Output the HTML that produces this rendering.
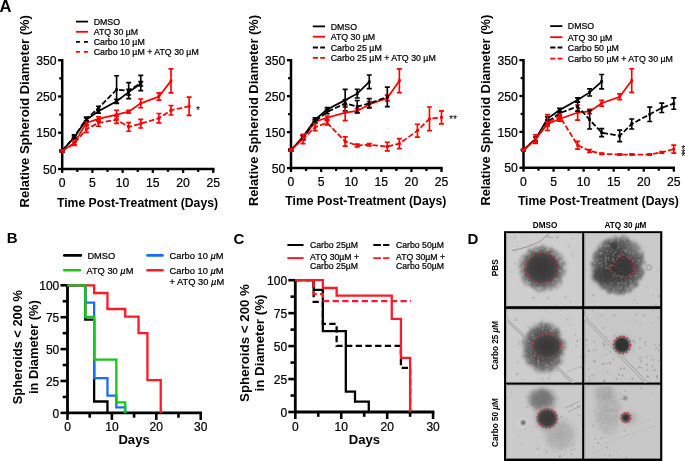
<!DOCTYPE html>
<html><head><meta charset="utf-8"><style>
html,body{margin:0;padding:0;background:#fff;}
svg{display:block;will-change:transform;}
text{font-family:"Liberation Sans", sans-serif;fill:#000;}
text.r,.r text{stroke:#000;stroke-width:0.22px;}
</style></head><body>
<svg width="685" height="461" viewBox="0 0 685 461">
<rect width="685" height="461" fill="#fff"/>
<path d="M62.2 59V169H214.5" fill="none" stroke="#000" stroke-width="2.5" stroke-linejoin="miter"/>
<path d="M58.1 169H62.2" stroke="#000" stroke-width="2.3"/>
<path d="M59.3 150.87H62.2" stroke="#000" stroke-width="2.3"/>
<path d="M58.1 132.73H62.2" stroke="#000" stroke-width="2.3"/>
<path d="M59.3 114.6H62.2" stroke="#000" stroke-width="2.3"/>
<path d="M58.1 96.47H62.2" stroke="#000" stroke-width="2.3"/>
<path d="M59.3 78.33H62.2" stroke="#000" stroke-width="2.3"/>
<path d="M58.1 60.2H62.2" stroke="#000" stroke-width="2.3"/>
<path d="M62.2 169V172.9" stroke="#000" stroke-width="2.3"/>
<path d="M77.31 169V171.9" stroke="#000" stroke-width="2.3"/>
<path d="M92.42 169V172.9" stroke="#000" stroke-width="2.3"/>
<path d="M107.53 169V171.9" stroke="#000" stroke-width="2.3"/>
<path d="M122.64 169V172.9" stroke="#000" stroke-width="2.3"/>
<path d="M137.75 169V171.9" stroke="#000" stroke-width="2.3"/>
<path d="M152.86 169V172.9" stroke="#000" stroke-width="2.3"/>
<path d="M167.97 169V171.9" stroke="#000" stroke-width="2.3"/>
<path d="M183.08 169V172.9" stroke="#000" stroke-width="2.3"/>
<path d="M198.19 169V171.9" stroke="#000" stroke-width="2.3"/>
<path d="M213.3 169V172.9" stroke="#000" stroke-width="2.3"/>
<text x="56.6" y="173.6" text-anchor="end" font-size="12.2" class="r">50</text>
<text x="56.6" y="137.33" text-anchor="end" font-size="12.2" class="r">150</text>
<text x="56.6" y="101.07" text-anchor="end" font-size="12.2" class="r">250</text>
<text x="56.6" y="64.8" text-anchor="end" font-size="12.2" class="r">350</text>
<text x="62.2" y="186.5" text-anchor="middle" font-size="12.2" class="r">0</text>
<text x="92.42" y="186.5" text-anchor="middle" font-size="12.2" class="r">5</text>
<text x="122.64" y="186.5" text-anchor="middle" font-size="12.2" class="r">10</text>
<text x="152.86" y="186.5" text-anchor="middle" font-size="12.2" class="r">15</text>
<text x="183.08" y="186.5" text-anchor="middle" font-size="12.2" class="r">20</text>
<text x="213.3" y="186.5" text-anchor="middle" font-size="12.2" class="r">25</text>
<text x="57" y="206.9" font-size="12.1" font-weight="bold" textLength="161" lengthAdjust="spacingAndGlyphs">Time Post-Treatment (Days)</text>
<text transform="translate(29.3,207.4) rotate(-90)" font-size="12.9" font-weight="bold" textLength="192.3" lengthAdjust="spacingAndGlyphs">Relative Spheroid Diameter (%)</text>
<path d="M62.2 150.87 L74.29 137.45 L86.38 119.68 L98.46 111.34 L116.6 101.18 L128.68 92.11 L140.77 83.77" fill="none" stroke="#000" stroke-width="1.75"/>
<path d="M62.2 149.78V151.95M59.7 149.78H64.7M59.7 151.95H64.7M74.29 136V138.9M71.79 136H76.79M71.79 138.9H76.79M86.38 117.86V121.49M83.88 117.86H88.88M83.88 121.49H88.88M98.46 109.52V113.15M95.96 109.52H100.96M95.96 113.15H100.96M116.6 99.37V102.99M114.1 99.37H119.1M114.1 102.99H119.1M128.68 89.21V95.02M126.18 89.21H131.18M126.18 95.02H131.18M140.77 81.6V85.95M138.27 81.6H143.27M138.27 85.95H143.27" fill="none" stroke="#000" stroke-width="1.65"/>
<path d="M60.8 149.47h2.8v2.8h-2.8zM72.89 136.05h2.8v2.8h-2.8zM84.98 118.28h2.8v2.8h-2.8zM97.06 109.94h2.8v2.8h-2.8zM115.2 99.78h2.8v2.8h-2.8zM127.28 90.71h2.8v2.8h-2.8zM139.37 82.37h2.8v2.8h-2.8z" fill="#000"/>
<path d="M62.2 150.87 L74.29 142.89 L86.38 122.94 L98.46 118.95 L116.6 114.6 L128.68 111.7 L140.77 103.36 L158.9 96.47 L170.99 80.87" fill="none" stroke="#ff0000" stroke-width="1.75"/>
<path d="M62.2 149.78V151.95M59.7 149.78H64.7M59.7 151.95H64.7M74.29 141.07V144.7M71.79 141.07H76.79M71.79 144.7H76.79M86.38 121.13V124.75M83.88 121.13H88.88M83.88 124.75H88.88M98.46 116.78V121.13M95.96 116.78H100.96M95.96 121.13H100.96M116.6 110.25V118.95M114.1 110.25H119.1M114.1 118.95H119.1M128.68 110.25V113.15M126.18 110.25H131.18M126.18 113.15H131.18M140.77 99.01V107.71M138.27 99.01H143.27M138.27 107.71H143.27M158.9 92.84V100.09M156.4 92.84H161.4M156.4 100.09H161.4M170.99 68.9V92.84M168.49 68.9H173.49M168.49 92.84H173.49" fill="none" stroke="#ff0000" stroke-width="1.65"/>
<path d="M60.8 149.47h2.8v2.8h-2.8zM72.89 141.49h2.8v2.8h-2.8zM84.98 121.54h2.8v2.8h-2.8zM97.06 117.55h2.8v2.8h-2.8zM115.2 113.2h2.8v2.8h-2.8zM127.28 110.3h2.8v2.8h-2.8zM139.37 101.96h2.8v2.8h-2.8zM157.5 95.07h2.8v2.8h-2.8zM169.59 79.47h2.8v2.8h-2.8z" fill="#ff0000"/>
<path d="M62.2 150.87 L74.29 136.36 L86.38 118.95 L98.46 108.07 L116.6 89.58 L128.68 90.66 L140.77 83.05" fill="none" stroke="#000" stroke-width="1.75" stroke-dasharray="5.5 2.2"/>
<path d="M62.2 149.78V151.95M59.7 149.78H64.7M59.7 151.95H64.7M74.29 134.91V137.81M71.79 134.91H76.79M71.79 137.81H76.79M86.38 117.14V120.77M83.88 117.14H88.88M83.88 120.77H88.88M98.46 106.26V109.89M95.96 106.26H100.96M95.96 109.89H100.96M116.6 75.79V103.36M114.1 75.79H119.1M114.1 103.36H119.1M128.68 82.69V98.64M126.18 82.69H131.18M126.18 98.64H131.18M140.77 75.43V90.66M138.27 75.43H143.27M138.27 90.66H143.27" fill="none" stroke="#000" stroke-width="1.65"/>
<path d="M60.8 149.47h2.8v2.8h-2.8zM72.89 134.96h2.8v2.8h-2.8zM84.98 117.55h2.8v2.8h-2.8zM97.06 106.67h2.8v2.8h-2.8zM115.2 88.18h2.8v2.8h-2.8zM127.28 89.26h2.8v2.8h-2.8zM139.37 81.65h2.8v2.8h-2.8z" fill="#000"/>
<path d="M62.2 150.87 L74.29 143.61 L86.38 129.11 L98.46 122.94 L116.6 119.68 L128.68 126.93 L140.77 123.67 L158.9 118.23 L170.99 110.25 L189.12 106.26" fill="none" stroke="#ff0000" stroke-width="1.75" stroke-dasharray="5.5 2.2"/>
<path d="M62.2 149.78V151.95M59.7 149.78H64.7M59.7 151.95H64.7M74.29 141.8V145.43M71.79 141.8H76.79M71.79 145.43H76.79M86.38 125.84V132.37M83.88 125.84H88.88M83.88 132.37H88.88M98.46 119.68V126.21M95.96 119.68H100.96M95.96 126.21H100.96M116.6 116.05V123.3M114.1 116.05H119.1M114.1 123.3H119.1M128.68 122.58V131.28M126.18 122.58H131.18M126.18 131.28H131.18M140.77 119.31V128.02M138.27 119.31H143.27M138.27 128.02H143.27M158.9 113.51V122.94M156.4 113.51H161.4M156.4 122.94H161.4M170.99 105.53V114.96M168.49 105.53H173.49M168.49 114.96H173.49M189.12 97.19V115.33M186.62 97.19H191.62M186.62 115.33H191.62" fill="none" stroke="#ff0000" stroke-width="1.65"/>
<path d="M60.8 149.47h2.8v2.8h-2.8zM72.89 142.21h2.8v2.8h-2.8zM84.98 127.71h2.8v2.8h-2.8zM97.06 121.54h2.8v2.8h-2.8zM115.2 118.28h2.8v2.8h-2.8zM127.28 125.53h2.8v2.8h-2.8zM139.37 122.27h2.8v2.8h-2.8zM157.5 116.83h2.8v2.8h-2.8zM169.59 108.85h2.8v2.8h-2.8zM187.72 104.86h2.8v2.8h-2.8z" fill="#ff0000"/>
<text x="198.1" y="113.5" text-anchor="middle" font-size="10.5">*</text>
<path d="M75.9 21.6H88.1" stroke="#000" stroke-width="1.8"/>
<text x="93.7" y="24.9" font-size="8.8" class="r">DMSO</text>
<path d="M75.9 31.8H88.1" stroke="#ff0000" stroke-width="1.8"/>
<text x="93.7" y="35.1" font-size="8.8" class="r">ATQ 30 µM</text>
<path d="M75.9 41.8H88.1" stroke="#000" stroke-width="1.8" stroke-dasharray="4 4"/>
<text x="93.7" y="45.1" font-size="8.8" class="r">Carbo 10 µM</text>
<path d="M75.9 51.9H88.1" stroke="#ff0000" stroke-width="1.8" stroke-dasharray="4 4"/>
<text x="93.7" y="55.2" font-size="8.8" class="r">Carbo 10 µM + ATQ 30 µM</text>
<path d="M291 59V168.1H442.7" fill="none" stroke="#000" stroke-width="2.5" stroke-linejoin="miter"/>
<path d="M286.9 168.1H291" stroke="#000" stroke-width="2.3"/>
<path d="M288.1 150.12H291" stroke="#000" stroke-width="2.3"/>
<path d="M286.9 132.13H291" stroke="#000" stroke-width="2.3"/>
<path d="M288.1 114.15H291" stroke="#000" stroke-width="2.3"/>
<path d="M286.9 96.17H291" stroke="#000" stroke-width="2.3"/>
<path d="M288.1 78.18H291" stroke="#000" stroke-width="2.3"/>
<path d="M286.9 60.2H291" stroke="#000" stroke-width="2.3"/>
<path d="M291 168.1V172" stroke="#000" stroke-width="2.3"/>
<path d="M306.05 168.1V171" stroke="#000" stroke-width="2.3"/>
<path d="M321.1 168.1V172" stroke="#000" stroke-width="2.3"/>
<path d="M336.15 168.1V171" stroke="#000" stroke-width="2.3"/>
<path d="M351.2 168.1V172" stroke="#000" stroke-width="2.3"/>
<path d="M366.25 168.1V171" stroke="#000" stroke-width="2.3"/>
<path d="M381.3 168.1V172" stroke="#000" stroke-width="2.3"/>
<path d="M396.35 168.1V171" stroke="#000" stroke-width="2.3"/>
<path d="M411.4 168.1V172" stroke="#000" stroke-width="2.3"/>
<path d="M426.45 168.1V171" stroke="#000" stroke-width="2.3"/>
<path d="M441.5 168.1V172" stroke="#000" stroke-width="2.3"/>
<text x="285.4" y="172.7" text-anchor="end" font-size="12.2" class="r">50</text>
<text x="285.4" y="136.73" text-anchor="end" font-size="12.2" class="r">150</text>
<text x="285.4" y="100.77" text-anchor="end" font-size="12.2" class="r">250</text>
<text x="285.4" y="64.8" text-anchor="end" font-size="12.2" class="r">350</text>
<text x="291" y="185.6" text-anchor="middle" font-size="12.2" class="r">0</text>
<text x="321.1" y="185.6" text-anchor="middle" font-size="12.2" class="r">5</text>
<text x="351.2" y="185.6" text-anchor="middle" font-size="12.2" class="r">10</text>
<text x="381.3" y="185.6" text-anchor="middle" font-size="12.2" class="r">15</text>
<text x="411.4" y="185.6" text-anchor="middle" font-size="12.2" class="r">20</text>
<text x="441.5" y="185.6" text-anchor="middle" font-size="12.2" class="r">25</text>
<text x="285.3" y="205.3" font-size="12.1" font-weight="bold" textLength="161" lengthAdjust="spacingAndGlyphs">Time Post-Treatment (Days)</text>
<text transform="translate(257.9,206.1) rotate(-90)" font-size="12.9" font-weight="bold" textLength="191.2" lengthAdjust="spacingAndGlyphs">Relative Spheroid Diameter (%)</text>
<path d="M291 150.12 L303.04 136.81 L315.08 119.55 L327.12 109.47 L345.18 100.12 L357.22 93.65 L369.26 81.78" fill="none" stroke="#000" stroke-width="1.75"/>
<path d="M291 149.04V151.2M288.5 149.04H293.5M288.5 151.2H293.5M303.04 135.01V138.61M300.54 135.01H305.54M300.54 138.61H305.54M315.08 117.75V121.34M312.58 117.75H317.58M312.58 121.34H317.58M327.12 107.68V111.27M324.62 107.68H329.62M324.62 111.27H329.62M345.18 89.33V110.91M342.68 89.33H347.68M342.68 110.91H347.68M357.22 89.33V97.96M354.72 89.33H359.72M354.72 97.96H359.72M369.26 74.95V88.61M366.76 74.95H371.76M366.76 88.61H371.76" fill="none" stroke="#000" stroke-width="1.65"/>
<path d="M289.6 148.72h2.8v2.8h-2.8zM301.64 135.41h2.8v2.8h-2.8zM313.68 118.14h2.8v2.8h-2.8zM325.72 108.07h2.8v2.8h-2.8zM343.78 98.72h2.8v2.8h-2.8zM355.82 92.25h2.8v2.8h-2.8zM367.86 80.38h2.8v2.8h-2.8z" fill="#000"/>
<path d="M291 150.12 L303.04 137.89 L315.08 121.7 L327.12 117.75 L345.18 112.71 L357.22 110.91 L369.26 104.44 L387.32 97.96 L399.36 80.7" fill="none" stroke="#ff0000" stroke-width="1.75"/>
<path d="M291 149.04V151.2M288.5 149.04H293.5M288.5 151.2H293.5M303.04 135.73V140.05M300.54 135.73H305.54M300.54 140.05H305.54M315.08 119.9V123.5M312.58 119.9H317.58M312.58 123.5H317.58M327.12 115.95V119.55M324.62 115.95H329.62M324.62 119.55H329.62M345.18 104.8V120.62M342.68 104.8H347.68M342.68 120.62H347.68M357.22 108.75V113.07M354.72 108.75H359.72M354.72 113.07H359.72M369.26 101.56V107.32M366.76 101.56H371.76M366.76 107.32H371.76M387.32 95.09V100.84M384.82 95.09H389.82M384.82 100.84H389.82M399.36 68.83V92.57M396.86 68.83H401.86M396.86 92.57H401.86" fill="none" stroke="#ff0000" stroke-width="1.65"/>
<path d="M289.6 148.72h2.8v2.8h-2.8zM301.64 136.49h2.8v2.8h-2.8zM313.68 120.3h2.8v2.8h-2.8zM325.72 116.35h2.8v2.8h-2.8zM343.78 111.31h2.8v2.8h-2.8zM355.82 109.51h2.8v2.8h-2.8zM367.86 103.04h2.8v2.8h-2.8zM385.92 96.56h2.8v2.8h-2.8zM397.96 79.3h2.8v2.8h-2.8z" fill="#ff0000"/>
<path d="M291 150.12 L303.04 137.53 L315.08 121.34 L327.12 111.99 L345.18 103.36 L357.22 106.6 L369.26 103.36 L387.32 96.89" fill="none" stroke="#000" stroke-width="1.75" stroke-dasharray="5.5 2.2"/>
<path d="M291 149.04V151.2M288.5 149.04H293.5M288.5 151.2H293.5M303.04 135.73V139.33M300.54 135.73H305.54M300.54 139.33H305.54M315.08 119.55V123.14M312.58 119.55H317.58M312.58 123.14H317.58M327.12 110.19V113.79M324.62 110.19H329.62M324.62 113.79H329.62M345.18 99.76V106.96M342.68 99.76H347.68M342.68 106.96H347.68M357.22 100.48V112.71M354.72 100.48H359.72M354.72 112.71H359.72M369.26 98.68V108.04M366.76 98.68H371.76M366.76 108.04H371.76M387.32 87.18V106.6M384.82 87.18H389.82M384.82 106.6H389.82" fill="none" stroke="#000" stroke-width="1.65"/>
<path d="M289.6 148.72h2.8v2.8h-2.8zM301.64 136.13h2.8v2.8h-2.8zM313.68 119.94h2.8v2.8h-2.8zM325.72 110.59h2.8v2.8h-2.8zM343.78 101.96h2.8v2.8h-2.8zM355.82 105.2h2.8v2.8h-2.8zM367.86 101.96h2.8v2.8h-2.8zM385.92 95.49h2.8v2.8h-2.8z" fill="#000"/>
<path d="M291 150.12 L303.04 138.97 L315.08 127.1 L327.12 122.78 L345.18 141.48 L357.22 145.44 L369.26 144.72 L387.32 146.52 L399.36 143.64 L417.42 130.69 L429.46 118.83 L441.5 117.39" fill="none" stroke="#ff0000" stroke-width="1.75" stroke-dasharray="5.5 2.2"/>
<path d="M291 149.04V151.2M288.5 149.04H293.5M288.5 151.2H293.5M303.04 134.29V143.64M300.54 134.29H305.54M300.54 143.64H305.54M315.08 123.5V130.69M312.58 123.5H317.58M312.58 130.69H317.58M327.12 120.62V124.94M324.62 120.62H329.62M324.62 124.94H329.62M345.18 136.81V146.16M342.68 136.81H347.68M342.68 146.16H347.68M357.22 144V146.88M354.72 144H359.72M354.72 146.88H359.72M369.26 143.64V145.8M366.76 143.64H371.76M366.76 145.8H371.76M387.32 142.2V150.84M384.82 142.2H389.82M384.82 150.84H389.82M399.36 138.61V148.68M396.86 138.61H401.86M396.86 148.68H401.86M417.42 124.22V137.17M414.92 124.22H419.92M414.92 137.17H419.92M429.46 106.96V130.69M426.96 106.96H431.96M426.96 130.69H431.96M441.5 110.91V123.86M439 110.91H444M439 123.86H444" fill="none" stroke="#ff0000" stroke-width="1.65"/>
<path d="M289.6 148.72h2.8v2.8h-2.8zM301.64 137.57h2.8v2.8h-2.8zM313.68 125.7h2.8v2.8h-2.8zM325.72 121.38h2.8v2.8h-2.8zM343.78 140.08h2.8v2.8h-2.8zM355.82 144.04h2.8v2.8h-2.8zM367.86 143.32h2.8v2.8h-2.8zM385.92 145.12h2.8v2.8h-2.8zM397.96 142.24h2.8v2.8h-2.8zM416.02 129.29h2.8v2.8h-2.8zM428.06 117.43h2.8v2.8h-2.8zM440.1 115.99h2.8v2.8h-2.8z" fill="#ff0000"/>
<text x="453" y="123.2" text-anchor="middle" font-size="10.5">**</text>
<path d="M312.8 26.4H325" stroke="#000" stroke-width="1.8"/>
<text x="330.7" y="29.7" font-size="8.8" class="r">DMSO</text>
<path d="M312.8 36.7H325" stroke="#ff0000" stroke-width="1.8"/>
<text x="330.7" y="40" font-size="8.8" class="r">ATQ 30 µM</text>
<path d="M312.8 47.5H325" stroke="#000" stroke-width="1.8" stroke-dasharray="5.2 2.2"/>
<text x="330.7" y="50.8" font-size="8.8" class="r">Carbo 25 µM</text>
<path d="M312.8 57.9H325" stroke="#ff0000" stroke-width="1.8" stroke-dasharray="5.2 2.2"/>
<text x="330.7" y="61.2" font-size="8.8" class="r">Carbo 25 µM + ATQ 30 µM</text>
<path d="M523.5 58.9V167.8H675" fill="none" stroke="#000" stroke-width="2.5" stroke-linejoin="miter"/>
<path d="M519.4 167.8H523.5" stroke="#000" stroke-width="2.3"/>
<path d="M520.6 149.85H523.5" stroke="#000" stroke-width="2.3"/>
<path d="M519.4 131.9H523.5" stroke="#000" stroke-width="2.3"/>
<path d="M520.6 113.95H523.5" stroke="#000" stroke-width="2.3"/>
<path d="M519.4 96H523.5" stroke="#000" stroke-width="2.3"/>
<path d="M520.6 78.05H523.5" stroke="#000" stroke-width="2.3"/>
<path d="M519.4 60.1H523.5" stroke="#000" stroke-width="2.3"/>
<path d="M523.5 167.8V171.7" stroke="#000" stroke-width="2.3"/>
<path d="M538.53 167.8V170.7" stroke="#000" stroke-width="2.3"/>
<path d="M553.56 167.8V171.7" stroke="#000" stroke-width="2.3"/>
<path d="M568.59 167.8V170.7" stroke="#000" stroke-width="2.3"/>
<path d="M583.62 167.8V171.7" stroke="#000" stroke-width="2.3"/>
<path d="M598.65 167.8V170.7" stroke="#000" stroke-width="2.3"/>
<path d="M613.68 167.8V171.7" stroke="#000" stroke-width="2.3"/>
<path d="M628.71 167.8V170.7" stroke="#000" stroke-width="2.3"/>
<path d="M643.74 167.8V171.7" stroke="#000" stroke-width="2.3"/>
<path d="M658.77 167.8V170.7" stroke="#000" stroke-width="2.3"/>
<path d="M673.8 167.8V171.7" stroke="#000" stroke-width="2.3"/>
<text x="517.9" y="172.4" text-anchor="end" font-size="12.2" class="r">50</text>
<text x="517.9" y="136.5" text-anchor="end" font-size="12.2" class="r">150</text>
<text x="517.9" y="100.6" text-anchor="end" font-size="12.2" class="r">250</text>
<text x="517.9" y="64.7" text-anchor="end" font-size="12.2" class="r">350</text>
<text x="523.5" y="185.6" text-anchor="middle" font-size="12.2" class="r">0</text>
<text x="553.56" y="185.6" text-anchor="middle" font-size="12.2" class="r">5</text>
<text x="583.62" y="185.6" text-anchor="middle" font-size="12.2" class="r">10</text>
<text x="613.68" y="185.6" text-anchor="middle" font-size="12.2" class="r">15</text>
<text x="643.74" y="185.6" text-anchor="middle" font-size="12.2" class="r">20</text>
<text x="673.8" y="185.6" text-anchor="middle" font-size="12.2" class="r">25</text>
<text x="517.9" y="205.2" font-size="12.1" font-weight="bold" textLength="161" lengthAdjust="spacingAndGlyphs">Time Post-Treatment (Days)</text>
<text transform="translate(490.1,205.6) rotate(-90)" font-size="12.9" font-weight="bold" textLength="190.8" lengthAdjust="spacingAndGlyphs">Relative Spheroid Diameter (%)</text>
<path d="M523.5 149.85 L535.52 139.08 L547.55 118.62 L559.57 110 L577.61 99.95 L589.63 92.41 L601.66 81.64" fill="none" stroke="#000" stroke-width="1.75"/>
<path d="M523.5 148.77V150.93M521 148.77H526M521 150.93H526M535.52 137.28V140.88M533.02 137.28H538.02M533.02 140.88H538.02M547.55 116.82V120.41M545.05 116.82H550.05M545.05 120.41H550.05M559.57 108.21V111.8M557.07 108.21H562.07M557.07 111.8H562.07M577.61 97.8V102.1M575.11 97.8H580.11M575.11 102.1H580.11M589.63 88.82V96M587.13 88.82H592.13M587.13 96H592.13M601.66 74.46V88.82M599.16 74.46H604.16M599.16 88.82H604.16" fill="none" stroke="#000" stroke-width="1.65"/>
<path d="M522.1 148.45h2.8v2.8h-2.8zM534.12 137.68h2.8v2.8h-2.8zM546.15 117.22h2.8v2.8h-2.8zM558.17 108.6h2.8v2.8h-2.8zM576.21 98.55h2.8v2.8h-2.8zM588.23 91.01h2.8v2.8h-2.8zM600.26 80.24h2.8v2.8h-2.8z" fill="#000"/>
<path d="M523.5 149.85 L535.52 139.08 L547.55 124 L559.57 118.98 L577.61 112.51 L589.63 111.44 L601.66 103.18 L619.69 96.72 L631.72 80.56" fill="none" stroke="#ff0000" stroke-width="1.75"/>
<path d="M523.5 148.77V150.93M521 148.77H526M521 150.93H526M535.52 134.77V143.39M533.02 134.77H538.02M533.02 143.39H538.02M547.55 121.85V126.16M545.05 121.85H550.05M545.05 126.16H550.05M559.57 116.82V121.13M557.07 116.82H562.07M557.07 121.13H562.07M577.61 104.97V120.05M575.11 104.97H580.11M575.11 120.05H580.11M589.63 109.28V113.59M587.13 109.28H592.13M587.13 113.59H592.13M601.66 100.31V106.05M599.16 100.31H604.16M599.16 106.05H604.16M619.69 93.85V99.59M617.19 93.85H622.19M617.19 99.59H622.19M631.72 68.72V92.41M629.22 68.72H634.22M629.22 92.41H634.22" fill="none" stroke="#ff0000" stroke-width="1.65"/>
<path d="M522.1 148.45h2.8v2.8h-2.8zM534.12 137.68h2.8v2.8h-2.8zM546.15 122.6h2.8v2.8h-2.8zM558.17 117.58h2.8v2.8h-2.8zM576.21 111.11h2.8v2.8h-2.8zM588.23 110.04h2.8v2.8h-2.8zM600.26 101.78h2.8v2.8h-2.8zM618.29 95.32h2.8v2.8h-2.8zM630.32 79.16h2.8v2.8h-2.8z" fill="#ff0000"/>
<path d="M523.5 149.85 L535.52 139.08 L547.55 121.85 L559.57 113.23 L577.61 106.41 L589.63 119.69 L601.66 132.62 L619.69 135.85 L631.72 124 L649.75 114.31 L661.78 107.85 L673.8 103.54" fill="none" stroke="#000" stroke-width="1.75" stroke-dasharray="5.5 2.2"/>
<path d="M523.5 148.77V150.93M521 148.77H526M521 150.93H526M535.52 137.28V140.88M533.02 137.28H538.02M533.02 140.88H538.02M547.55 119.69V124M545.05 119.69H550.05M545.05 124H550.05M559.57 111.44V115.03M557.07 111.44H562.07M557.07 115.03H562.07M577.61 101.74V111.08M575.11 101.74H580.11M575.11 111.08H580.11M589.63 110.36V129.03M587.13 110.36H592.13M587.13 129.03H592.13M601.66 128.67V136.57M599.16 128.67H604.16M599.16 136.57H604.16M619.69 130.11V141.59M617.19 130.11H622.19M617.19 141.59H622.19M631.72 118.98V129.03M629.22 118.98H634.22M629.22 129.03H634.22M649.75 107.13V121.49M647.25 107.13H652.25M647.25 121.49H652.25M661.78 103.18V112.51M659.28 103.18H664.28M659.28 112.51H664.28M673.8 97.8V109.28M671.3 97.8H676.3M671.3 109.28H676.3" fill="none" stroke="#000" stroke-width="1.65"/>
<path d="M522.1 148.45h2.8v2.8h-2.8zM534.12 137.68h2.8v2.8h-2.8zM546.15 120.45h2.8v2.8h-2.8zM558.17 111.83h2.8v2.8h-2.8zM576.21 105.01h2.8v2.8h-2.8zM588.23 118.29h2.8v2.8h-2.8zM600.26 131.22h2.8v2.8h-2.8zM618.29 134.45h2.8v2.8h-2.8zM630.32 122.6h2.8v2.8h-2.8zM648.35 112.91h2.8v2.8h-2.8zM660.38 106.45h2.8v2.8h-2.8zM672.4 102.14h2.8v2.8h-2.8z" fill="#000"/>
<path d="M523.5 149.85 L535.52 139.8 L547.55 122.57 L559.57 116.1 L577.61 145.18 L589.63 150.93 L601.66 153.8 L619.69 154.52 L631.72 154.52 L649.75 154.52 L661.78 152.36 L673.8 149.13" fill="none" stroke="#ff0000" stroke-width="1.75" stroke-dasharray="5.5 2.2"/>
<path d="M523.5 148.77V150.93M521 148.77H526M521 150.93H526M535.52 137.64V141.95M533.02 137.64H538.02M533.02 141.95H538.02M547.55 114.67V130.46M545.05 114.67H550.05M545.05 130.46H550.05M559.57 113.95V118.26M557.07 113.95H562.07M557.07 118.26H562.07M577.61 141.23V149.13M575.11 141.23H580.11M575.11 149.13H580.11M589.63 149.49V152.36M587.13 149.49H592.13M587.13 152.36H592.13M601.66 153.08V154.52M599.16 153.08H604.16M599.16 154.52H604.16M619.69 153.8V155.24M617.19 153.8H622.19M617.19 155.24H622.19M631.72 153.8V155.24M629.22 153.8H634.22M629.22 155.24H634.22M649.75 153.8V155.24M647.25 153.8H652.25M647.25 155.24H652.25M661.78 151.65V153.08M659.28 151.65H664.28M659.28 153.08H664.28M673.8 145.18V153.08M671.3 145.18H676.3M671.3 153.08H676.3" fill="none" stroke="#ff0000" stroke-width="1.65"/>
<path d="M522.1 148.45h2.8v2.8h-2.8zM534.12 138.4h2.8v2.8h-2.8zM546.15 121.17h2.8v2.8h-2.8zM558.17 114.7h2.8v2.8h-2.8zM576.21 143.78h2.8v2.8h-2.8zM588.23 149.53h2.8v2.8h-2.8zM600.26 152.4h2.8v2.8h-2.8zM618.29 153.12h2.8v2.8h-2.8zM630.32 153.12h2.8v2.8h-2.8zM648.35 153.12h2.8v2.8h-2.8zM660.38 150.96h2.8v2.8h-2.8zM672.4 147.73h2.8v2.8h-2.8z" fill="#ff0000"/>
<path d="M550.2 26.1H562.4" stroke="#000" stroke-width="1.8"/>
<text x="567.8" y="29.4" font-size="8.8" class="r">DMSO</text>
<path d="M550.2 37.2H562.4" stroke="#ff0000" stroke-width="1.8"/>
<text x="567.8" y="40.5" font-size="8.8" class="r">ATQ 30 µM</text>
<path d="M550.2 47.5H562.4" stroke="#000" stroke-width="1.8" stroke-dasharray="5.2 2.2"/>
<text x="567.8" y="50.8" font-size="8.8" class="r">Carbo 50 µM</text>
<path d="M550.2 58.6H562.4" stroke="#ff0000" stroke-width="1.8" stroke-dasharray="5.2 2.2"/>
<text x="567.8" y="61.9" font-size="8.8" class="r">Carbo 50 µM + ATQ 30 µM</text>
<g font-size="10.5"><text x="683.2" y="152.8" text-anchor="middle">*</text><text x="683.2" y="156.5" text-anchor="middle">*</text><text x="683.2" y="160.2" text-anchor="middle">*</text></g>
<text x="-0.6" y="11.6" font-size="16.6" font-weight="bold">A</text>
<text x="6.8" y="243.3" font-size="15" font-weight="bold">B</text>
<text x="233.6" y="244.4" font-size="15" font-weight="bold">C</text>
<text x="467.6" y="244.3" font-size="15" font-weight="bold">D</text>
<path d="M67.5 284.1V412.9H202" fill="none" stroke="#000" stroke-width="2.8"/>
<path d="M60.5 412.9H67.5" stroke="#000" stroke-width="2.6"/>
<path d="M62.7 396.95H67.5" stroke="#000" stroke-width="2.6"/>
<path d="M60.5 381H67.5" stroke="#000" stroke-width="2.6"/>
<path d="M62.7 365.05H67.5" stroke="#000" stroke-width="2.6"/>
<path d="M60.5 349.1H67.5" stroke="#000" stroke-width="2.6"/>
<path d="M62.7 333.15H67.5" stroke="#000" stroke-width="2.6"/>
<path d="M60.5 317.2H67.5" stroke="#000" stroke-width="2.6"/>
<path d="M62.7 301.25H67.5" stroke="#000" stroke-width="2.6"/>
<path d="M60.5 285.3H67.5" stroke="#000" stroke-width="2.6"/>
<path d="M67.5 412.9V419.9" stroke="#000" stroke-width="2.6"/>
<path d="M89.7 412.9V417.7" stroke="#000" stroke-width="2.6"/>
<path d="M111.9 412.9V419.9" stroke="#000" stroke-width="2.6"/>
<path d="M134.1 412.9V417.7" stroke="#000" stroke-width="2.6"/>
<path d="M156.3 412.9V419.9" stroke="#000" stroke-width="2.6"/>
<path d="M178.5 412.9V417.7" stroke="#000" stroke-width="2.6"/>
<path d="M200.7 412.9V419.9" stroke="#000" stroke-width="2.6"/>
<text x="59.3" y="417.8" text-anchor="end" font-size="12" class="r">0</text>
<text x="59.3" y="385.9" text-anchor="end" font-size="12" class="r">25</text>
<text x="59.3" y="354" text-anchor="end" font-size="12" class="r">50</text>
<text x="59.3" y="322.1" text-anchor="end" font-size="12" class="r">75</text>
<text x="59.3" y="290.2" text-anchor="end" font-size="12" class="r">100</text>
<text x="67.5" y="430.6" text-anchor="middle" font-size="12" class="r">0</text>
<text x="111.9" y="430.6" text-anchor="middle" font-size="12" class="r">10</text>
<text x="156.3" y="430.6" text-anchor="middle" font-size="12" class="r">20</text>
<text x="200.7" y="430.6" text-anchor="middle" font-size="12" class="r">30</text>
<text x="134.05" y="444.2" text-anchor="middle" font-size="13.1" font-weight="bold">Days</text>
<text transform="translate(22.4,347.2) rotate(-90)" text-anchor="middle" font-size="12.9" font-weight="bold">Spheroids &lt; 200 %</text>
<text transform="translate(37.8,347.2) rotate(-90)" text-anchor="middle" font-size="12.9" font-weight="bold">in Diameter (%)</text>
<path d="M67.5 285.3H85.26V319.7H94.14V401.5H107.46V412.9" fill="none" stroke="#000" stroke-width="2.3"/>
<path d="M67.5 285.3H85.26V302.6H94.14V378.2H107.46V395.6H116.34V407.3H125.22V412.9" fill="none" stroke="#146eff" stroke-width="2.3"/>
<path d="M67.5 285.3H94.14V293H107.46V309H125.22V316.6H138.54V333.1H147.42V380.2H160.74V412.9" fill="none" stroke="#ff1a2a" stroke-width="2.3"/>
<path d="M67.5 285.3H85.26V317H94.14V359.6H116.34V402.3H125.22V412.9" fill="none" stroke="#14c814" stroke-width="2.3"/>
<path d="M295.3 279V412H434.39" fill="none" stroke="#000" stroke-width="2.8"/>
<path d="M288.3 412H295.3" stroke="#000" stroke-width="2.6"/>
<path d="M290.5 395.52H295.3" stroke="#000" stroke-width="2.6"/>
<path d="M288.3 379.05H295.3" stroke="#000" stroke-width="2.6"/>
<path d="M290.5 362.57H295.3" stroke="#000" stroke-width="2.6"/>
<path d="M288.3 346.1H295.3" stroke="#000" stroke-width="2.6"/>
<path d="M290.5 329.62H295.3" stroke="#000" stroke-width="2.6"/>
<path d="M288.3 313.15H295.3" stroke="#000" stroke-width="2.6"/>
<path d="M290.5 296.67H295.3" stroke="#000" stroke-width="2.6"/>
<path d="M288.3 280.2H295.3" stroke="#000" stroke-width="2.6"/>
<path d="M295.3 412V419" stroke="#000" stroke-width="2.6"/>
<path d="M318.26 412V416.8" stroke="#000" stroke-width="2.6"/>
<path d="M341.23 412V419" stroke="#000" stroke-width="2.6"/>
<path d="M364.19 412V416.8" stroke="#000" stroke-width="2.6"/>
<path d="M387.16 412V419" stroke="#000" stroke-width="2.6"/>
<path d="M410.12 412V416.8" stroke="#000" stroke-width="2.6"/>
<path d="M433.09 412V419" stroke="#000" stroke-width="2.6"/>
<text x="287.1" y="416.9" text-anchor="end" font-size="12" class="r">0</text>
<text x="287.1" y="383.95" text-anchor="end" font-size="12" class="r">25</text>
<text x="287.1" y="351" text-anchor="end" font-size="12" class="r">50</text>
<text x="287.1" y="318.05" text-anchor="end" font-size="12" class="r">75</text>
<text x="287.1" y="285.1" text-anchor="end" font-size="12" class="r">100</text>
<text x="295.3" y="430.6" text-anchor="middle" font-size="12" class="r">0</text>
<text x="341.23" y="430.6" text-anchor="middle" font-size="12" class="r">10</text>
<text x="387.16" y="430.6" text-anchor="middle" font-size="12" class="r">20</text>
<text x="433.09" y="430.6" text-anchor="middle" font-size="12" class="r">30</text>
<text x="364.45" y="444.2" text-anchor="middle" font-size="13.1" font-weight="bold">Days</text>
<text transform="translate(248.6,343) rotate(-90)" text-anchor="middle" font-size="13.3" font-weight="bold">Spheroids &lt; 200 %</text>
<text transform="translate(264.3,343) rotate(-90)" text-anchor="middle" font-size="13.3" font-weight="bold">in Diameter (%)</text>
<path d="M295.3 280.2H313.67V289.9H322.86V331.2H345.82V391.6H355.01V401.6H368.79V412" fill="none" stroke="#000" stroke-width="2.3"/>
<path d="M295.3 280.2H313.67V301.8H322.86V323.8H336.64V345.9H400.94V367.8H410.12V412" fill="none" stroke="#000" stroke-width="2.3" stroke-dasharray="6.3 3.4"/>
<path d="M295.3 280.2H322.86V288H336.64V295.6H391.75V318.8H400.94V357.9H410.12V412" fill="none" stroke="#ff1a2a" stroke-width="2.3"/>
<path d="M295.3 280.2H313.67V294.2H322.86V301.1H411.04" fill="none" stroke="#ff1a2a" stroke-width="2.3" stroke-dasharray="6.3 3.4"/>
<g font-size="9.3" class="r">
<path d="M64.3 255.4H80.9" stroke="#000" stroke-width="2.6" stroke-linecap="round"/>
<path d="M64.3 270.2H80.0" stroke="#14c814" stroke-width="2.6" stroke-linecap="round"/>
<path d="M147.5 255.4H162.5" stroke="#146eff" stroke-width="2.6" stroke-linecap="round"/>
<path d="M147.5 270.2H162.5" stroke="#ff1a2a" stroke-width="2.6" stroke-linecap="round"/>
<text x="87.4" y="258.7">DMSO</text>
<text x="86.4" y="273.5">ATQ 30 <tspan font-style="italic">µ</tspan>M</text>
<text x="169.6" y="258.7">Carbo 10 <tspan font-style="italic">µ</tspan>M</text>
<text x="169.6" y="273.5">Carbo 10 <tspan font-style="italic">µ</tspan>M</text>
<text x="169.6" y="284.6">+ ATQ 30 <tspan font-style="italic">µ</tspan>M</text>
</g>
<g font-size="8.7" class="r">
<path d="M287.4 245H303.6" stroke="#000" stroke-width="2"/>
<path d="M287.4 258.1H303.6" stroke="#ff1a2a" stroke-width="2"/>
<path d="M373.3 245H389.3" stroke="#000" stroke-width="1.9" stroke-dasharray="7.6 2.2"/>
<path d="M373.3 258.1H389.3" stroke="#ff1a2a" stroke-width="1.9" stroke-dasharray="7.6 2.2"/>
<text x="310" y="247.6">Carbo 25µM</text>
<text x="310" y="259.6">ATQ 30µM +</text>
<text x="310" y="268.9">Carbo 25µM</text>
<text x="396" y="247.6">Carbo 50µM</text>
<text x="396" y="259.6">ATQ 30µM +</text>
<text x="396" y="268.9">Carbo 50µM</text>
</g>
<defs>
<filter id="rough" x="-30%" y="-30%" width="160%" height="160%">
<feTurbulence type="fractalNoise" baseFrequency="0.22" numOctaves="3" seed="4" result="n"/>
<feDisplacementMap in="SourceGraphic" in2="n" scale="7" xChannelSelector="R" yChannelSelector="G" result="d"/>
<feGaussianBlur in="d" stdDeviation="0.9" result="b"/>
<feTurbulence type="fractalNoise" baseFrequency="0.32" numOctaves="2" seed="11" result="n2"/>
<feColorMatrix in="n2" type="matrix" values="0 0 0 0 0.75  0 0 0 0 0.75  0 0 0 0 0.75  0.75 0 0 0 -0.34" result="light"/>
<feComposite in="light" in2="b" operator="in" result="li"/>
<feMerge><feMergeNode in="b"/><feMergeNode in="li"/></feMerge>
</filter>
<filter id="rough3" x="-30%" y="-30%" width="160%" height="160%">
<feTurbulence type="fractalNoise" baseFrequency="0.2" numOctaves="3" seed="21" result="n"/>
<feDisplacementMap in="SourceGraphic" in2="n" scale="9" xChannelSelector="R" yChannelSelector="G" result="d"/>
<feGaussianBlur in="d" stdDeviation="0.8" result="b"/>
<feTurbulence type="fractalNoise" baseFrequency="0.4" numOctaves="2" seed="13" result="n2"/>
<feColorMatrix in="n2" type="matrix" values="0 0 0 0 0.7  0 0 0 0 0.7  0 0 0 0 0.7  0.6 0 0 0 -0.28" result="light"/>
<feComposite in="light" in2="b" operator="in" result="li"/>
<feMerge><feMergeNode in="b"/><feMergeNode in="li"/></feMerge>
</filter>
<filter id="rough2" x="-30%" y="-30%" width="160%" height="160%">
<feTurbulence type="fractalNoise" baseFrequency="0.35" numOctaves="2" seed="9" result="n"/>
<feDisplacementMap in="SourceGraphic" in2="n" scale="5" xChannelSelector="R" yChannelSelector="G" result="d"/>
<feGaussianBlur in="d" stdDeviation="0.7"/>
</filter>
<filter id="blur1" x="-30%" y="-30%" width="160%" height="160%"><feGaussianBlur stdDeviation="1"/></filter>
<filter id="blur2" x="-30%" y="-30%" width="160%" height="160%"><feGaussianBlur stdDeviation="2.2"/></filter>
<radialGradient id="core"><stop offset="0" stop-color="#363636"/><stop offset="0.6" stop-color="#3d3d3d"/><stop offset="1" stop-color="#4a4a4a"/></radialGradient>
<radialGradient id="halo"><stop offset="0" stop-color="#444"/><stop offset="0.6" stop-color="#4c4c4c"/><stop offset="0.7" stop-color="#646464"/><stop offset="0.82" stop-color="#848484"/><stop offset="0.93" stop-color="#a8a8a8"/><stop offset="1" stop-color="#c0c0c0" stop-opacity="0"/></radialGradient>
<radialGradient id="halo2"><stop offset="0" stop-color="#3a3a3a"/><stop offset="0.5" stop-color="#464646"/><stop offset="0.76" stop-color="#5c5c5c"/><stop offset="0.9" stop-color="#7e7e7e"/><stop offset="1" stop-color="#aaa" stop-opacity="0"/></radialGradient>
<radialGradient id="halo3"><stop offset="0" stop-color="#404040"/><stop offset="0.5" stop-color="#505050"/><stop offset="0.8" stop-color="#747474"/><stop offset="1" stop-color="#a8a8a8" stop-opacity="0"/></radialGradient>
<radialGradient id="faint"><stop offset="0" stop-color="#7c7c7c"/><stop offset="0.55" stop-color="#949494"/><stop offset="1" stop-color="#bdbdbd" stop-opacity="0"/></radialGradient>
<radialGradient id="faint2"><stop offset="0" stop-color="#a6a6a6"/><stop offset="0.6" stop-color="#b2b2b2"/><stop offset="1" stop-color="#c4c4c4" stop-opacity="0"/></radialGradient>
<clipPath id="c11"><rect x="506" y="233" width="76.4" height="73.4"/></clipPath>
<clipPath id="c12"><rect x="584.2" y="233" width="76.2" height="73.4"/></clipPath>
<clipPath id="c21"><rect x="506" y="308.8" width="76.4" height="73.9"/></clipPath>
<clipPath id="c22"><rect x="584.2" y="308.8" width="76.2" height="73.9"/></clipPath>
<clipPath id="c31"><rect x="506" y="384.6" width="76.4" height="74.2"/></clipPath>
<clipPath id="c32"><rect x="584.2" y="384.6" width="76.2" height="74.2"/></clipPath>
</defs>
<rect x="504" y="231.2" width="158.3" height="230" fill="#000"/>
<g clip-path="url(#c11)"><rect x="506" y="233" width="76.4" height="73.4" fill="#cecece"/>
<rect x="506" y="233" width="1.2" height="73.4" fill="#a8a8a8"/><rect x="506" y="233" width="76.4" height="1" fill="#b0b0b0"/>
<g fill="#999" opacity="0.5"><circle cx="530.7" cy="244.1" r="0.94"/><circle cx="511.5" cy="272.3" r="0.68"/><circle cx="510.4" cy="270.2" r="0.38"/><circle cx="539.1" cy="238.1" r="0.43"/><circle cx="538.4" cy="293.7" r="0.46"/><circle cx="523.1" cy="279.1" r="1.20"/><circle cx="550.1" cy="262.1" r="1.23"/><circle cx="509.6" cy="296.0" r="0.61"/><circle cx="517.0" cy="241.6" r="0.63"/><circle cx="568.4" cy="246.3" r="0.87"/><circle cx="554.8" cy="260.3" r="0.84"/><circle cx="510.8" cy="237.4" r="0.54"/><circle cx="558.0" cy="264.4" r="0.63"/><circle cx="550.7" cy="266.3" r="0.62"/><circle cx="566.7" cy="284.3" r="0.57"/><circle cx="549.9" cy="271.5" r="1.14"/><circle cx="561.7" cy="254.1" r="1.23"/><circle cx="515.0" cy="263.7" r="1.03"/><circle cx="517.6" cy="268.9" r="0.39"/><circle cx="557.1" cy="289.1" r="0.87"/><circle cx="572.9" cy="256.0" r="0.98"/><circle cx="551.4" cy="275.6" r="0.76"/><circle cx="570.2" cy="302.3" r="0.78"/><circle cx="556.7" cy="237.5" r="0.98"/><circle cx="555.4" cy="305.9" r="1.09"/><circle cx="527.7" cy="261.3" r="0.95"/><circle cx="507.7" cy="266.9" r="0.50"/><circle cx="514.9" cy="237.3" r="1.04"/><circle cx="515.9" cy="251.2" r="0.70"/><circle cx="572.6" cy="238.9" r="0.75"/><circle cx="548.0" cy="297.8" r="1.09"/><circle cx="572.0" cy="253.4" r="0.72"/><circle cx="533.4" cy="297.9" r="1.21"/><circle cx="517.5" cy="245.9" r="0.56"/><circle cx="523.8" cy="268.6" r="0.88"/><circle cx="526.1" cy="233.3" r="0.73"/><circle cx="534.2" cy="274.6" r="1.21"/><circle cx="558.8" cy="270.8" r="0.91"/><circle cx="557.7" cy="237.0" r="1.16"/><circle cx="565.6" cy="297.2" r="1.07"/></g>
<path d="M512 250.5 C520 249 532 246 540 241.5 C544 238 547 235 549.5 233" stroke="#8c8c8c" stroke-width="0.9" fill="none"/>
<path d="M546 236 L553 238" stroke="#999" stroke-width="0.7" fill="none"/>
<ellipse cx="542.2" cy="268.6" rx="25" ry="24.5" fill="url(#halo)" filter="url(#rough)"/>
<ellipse cx="541.9" cy="268" rx="15.8" ry="15.2" fill="url(#core)" filter="url(#blur1)"/>
<ellipse cx="541.9" cy="268" rx="16.1" ry="15.5" fill="none" stroke="#d23236" stroke-width="1.2" stroke-dasharray="2 2"/>
</g>
<g clip-path="url(#c12)"><rect x="584.2" y="233" width="76.2" height="73.4" fill="#cacaca"/>
<rect x="584.2" y="233" width="1.2" height="73.4" fill="#a8a8a8"/><rect x="584.2" y="233" width="76.2" height="1" fill="#b0b0b0"/>
<g fill="#999" opacity="0.5"><circle cx="614.1" cy="262.3" r="0.44"/><circle cx="632.5" cy="237.6" r="0.41"/><circle cx="600.1" cy="244.9" r="0.66"/><circle cx="588.2" cy="233.0" r="0.49"/><circle cx="591.9" cy="259.7" r="0.37"/><circle cx="650.8" cy="278.1" r="0.48"/><circle cx="603.4" cy="258.5" r="0.68"/><circle cx="593.6" cy="295.3" r="1.24"/><circle cx="619.7" cy="268.5" r="0.43"/><circle cx="592.0" cy="258.1" r="0.59"/><circle cx="647.4" cy="244.8" r="0.37"/><circle cx="656.7" cy="271.8" r="0.48"/><circle cx="625.6" cy="235.0" r="0.83"/><circle cx="658.8" cy="296.4" r="0.98"/><circle cx="604.1" cy="259.9" r="0.50"/><circle cx="643.0" cy="272.1" r="1.05"/><circle cx="609.3" cy="249.4" r="1.08"/><circle cx="659.3" cy="295.6" r="1.08"/><circle cx="646.6" cy="287.3" r="0.55"/><circle cx="623.6" cy="259.1" r="0.38"/><circle cx="586.3" cy="253.5" r="0.58"/><circle cx="637.0" cy="303.2" r="0.75"/><circle cx="655.6" cy="305.5" r="1.21"/><circle cx="612.0" cy="249.2" r="0.55"/><circle cx="599.2" cy="248.0" r="0.91"/><circle cx="652.8" cy="294.7" r="0.78"/><circle cx="634.0" cy="291.7" r="0.43"/><circle cx="634.5" cy="299.8" r="1.05"/><circle cx="641.4" cy="268.1" r="0.51"/><circle cx="644.3" cy="257.4" r="1.07"/></g>
<ellipse cx="617.8" cy="265.5" rx="28" ry="31" fill="url(#halo2)" filter="url(#rough3)"/>
<ellipse cx="603" cy="276" rx="11" ry="8" fill="#383838" opacity="0.7" filter="url(#blur2)"/>
<ellipse cx="614" cy="246" rx="4" ry="3.5" fill="#333" opacity="0.6" filter="url(#blur1)"/>
<ellipse cx="633" cy="250" rx="9" ry="8" fill="#8a8a8a" opacity="0.35" filter="url(#blur2)"/>
<path d="M622.4 254.3 L634.3 263.4 L634.3 271.7 L623.2 277.8 L609.1 269.4 Z" fill="#363636" opacity="0.8" filter="url(#blur2)"/>
<path d="M622.4 254.3 Q629 257.5 633.6 262.6 Q635.6 267.5 633.8 272 Q628.6 276 623.2 277.8 Q616 274.8 609.1 269.4 Q615.2 260.6 622.4 254.3 Z" fill="none" stroke="#d23236" stroke-width="1.2" stroke-dasharray="2 2"/>
<circle cx="649" cy="267.5" r="2.7" fill="#c4c4c4" stroke="#8e8e8e" stroke-width="0.8"/>
</g>
<g clip-path="url(#c21)"><rect x="506" y="308.8" width="76.4" height="73.9" fill="#cdcdcd"/>
<rect x="506" y="308.8" width="1.2" height="73.9" fill="#a8a8a8"/><rect x="506" y="308.8" width="76.4" height="1" fill="#b0b0b0"/>
<g fill="#999" opacity="0.5"><circle cx="580.2" cy="338.1" r="0.71"/><circle cx="578.3" cy="362.4" r="0.50"/><circle cx="515.7" cy="320.0" r="1.16"/><circle cx="567.6" cy="319.6" r="1.09"/><circle cx="580.9" cy="357.4" r="0.67"/><circle cx="547.9" cy="318.5" r="0.36"/><circle cx="580.2" cy="356.8" r="0.82"/><circle cx="577.3" cy="340.9" r="1.13"/><circle cx="569.1" cy="324.4" r="0.58"/><circle cx="528.4" cy="326.6" r="0.88"/><circle cx="525.8" cy="339.8" r="0.47"/><circle cx="575.5" cy="334.9" r="0.76"/><circle cx="550.6" cy="375.6" r="0.73"/><circle cx="576.1" cy="345.9" r="0.83"/><circle cx="546.0" cy="310.2" r="0.75"/><circle cx="520.0" cy="309.1" r="1.07"/><circle cx="519.2" cy="343.8" r="1.00"/><circle cx="548.5" cy="332.9" r="0.82"/><circle cx="548.4" cy="366.8" r="0.45"/><circle cx="548.8" cy="327.2" r="0.60"/><circle cx="565.0" cy="346.3" r="0.86"/><circle cx="564.1" cy="376.2" r="0.75"/><circle cx="552.8" cy="346.2" r="0.81"/><circle cx="558.9" cy="342.2" r="0.83"/><circle cx="542.5" cy="378.4" r="0.98"/><circle cx="573.0" cy="378.4" r="0.58"/><circle cx="548.7" cy="378.5" r="1.11"/><circle cx="516.5" cy="317.8" r="0.75"/><circle cx="511.5" cy="326.6" r="0.42"/><circle cx="557.1" cy="366.7" r="1.16"/><circle cx="517.8" cy="361.7" r="0.94"/><circle cx="516.9" cy="374.0" r="1.22"/><circle cx="522.8" cy="379.2" r="0.71"/><circle cx="543.2" cy="382.0" r="1.10"/><circle cx="518.3" cy="340.7" r="0.81"/><circle cx="531.9" cy="323.3" r="0.64"/><circle cx="561.2" cy="310.2" r="0.85"/><circle cx="539.7" cy="310.1" r="0.65"/><circle cx="553.7" cy="346.7" r="0.41"/><circle cx="581.3" cy="367.1" r="1.22"/></g>
<path d="M505 318 L576 385.5" stroke="#a2a2a2" stroke-width="2.6" fill="none"/><path d="M505 318 L576 385.5" stroke="#dadada" stroke-width="1" fill="none"/>
<path d="M567 372 L583 365.5" stroke="#b0b0b0" stroke-width="0.8" fill="none"/>
<ellipse cx="543.8" cy="347.5" rx="23.5" ry="28" fill="url(#halo3)" filter="url(#rough3)"/>
<ellipse cx="546.7" cy="346" rx="14" ry="11.8" fill="url(#core)" filter="url(#blur1)"/>
<ellipse cx="546.7" cy="346" rx="14.2" ry="12" fill="none" stroke="#d23236" stroke-width="1.2" stroke-dasharray="2 2"/>
</g>
<g clip-path="url(#c22)"><rect x="584.2" y="308.8" width="76.2" height="73.9" fill="#c8c8c8"/>
<rect x="584.2" y="308.8" width="1.2" height="73.9" fill="#a8a8a8"/><rect x="584.2" y="308.8" width="76.2" height="1" fill="#b0b0b0"/>
<g fill="#888" opacity="0.55"><circle cx="592.2" cy="350.5" r="0.38"/><circle cx="643.6" cy="350.7" r="0.45"/><circle cx="616.4" cy="378.8" r="1.01"/><circle cx="603.9" cy="345.4" r="1.09"/><circle cx="627.7" cy="369.5" r="0.42"/><circle cx="588.6" cy="369.0" r="0.69"/><circle cx="589.7" cy="380.0" r="0.86"/><circle cx="645.3" cy="342.5" r="1.03"/><circle cx="589.3" cy="376.7" r="0.71"/><circle cx="610.0" cy="363.1" r="1.09"/><circle cx="604.6" cy="344.5" r="0.77"/><circle cx="602.4" cy="343.6" r="0.48"/><circle cx="588.0" cy="347.7" r="0.60"/><circle cx="607.4" cy="372.1" r="0.58"/><circle cx="622.3" cy="346.6" r="0.63"/><circle cx="585.6" cy="349.8" r="0.36"/><circle cx="640.1" cy="363.0" r="0.50"/><circle cx="620.4" cy="379.8" r="0.44"/><circle cx="646.6" cy="357.8" r="0.75"/><circle cx="647.8" cy="356.1" r="0.76"/><circle cx="636.6" cy="381.9" r="0.62"/><circle cx="647.6" cy="369.8" r="0.86"/><circle cx="615.0" cy="354.1" r="0.39"/><circle cx="594.1" cy="341.9" r="0.94"/><circle cx="603.7" cy="346.0" r="0.42"/><circle cx="648.3" cy="377.0" r="0.89"/><circle cx="605.7" cy="349.4" r="0.58"/><circle cx="619.2" cy="345.7" r="0.71"/><circle cx="604.3" cy="381.0" r="1.13"/><circle cx="625.9" cy="349.5" r="1.12"/><circle cx="607.8" cy="354.5" r="0.35"/><circle cx="613.3" cy="359.6" r="0.75"/><circle cx="599.5" cy="361.0" r="0.35"/><circle cx="604.3" cy="342.7" r="0.67"/><circle cx="587.4" cy="339.8" r="0.59"/><circle cx="601.9" cy="364.5" r="0.77"/><circle cx="641.4" cy="367.7" r="0.92"/><circle cx="651.2" cy="355.9" r="0.61"/><circle cx="659.2" cy="345.4" r="0.93"/><circle cx="633.2" cy="340.7" r="1.02"/><circle cx="652.2" cy="366.3" r="0.94"/><circle cx="646.1" cy="344.9" r="0.77"/><circle cx="622.6" cy="375.5" r="0.99"/><circle cx="647.2" cy="364.4" r="1.06"/><circle cx="636.2" cy="369.2" r="0.53"/><circle cx="586.6" cy="344.6" r="0.64"/><circle cx="592.2" cy="375.5" r="0.80"/><circle cx="632.0" cy="366.3" r="0.89"/><circle cx="621.5" cy="338.9" r="0.99"/><circle cx="641.2" cy="360.9" r="0.78"/><circle cx="634.4" cy="341.7" r="0.94"/><circle cx="603.4" cy="342.1" r="0.56"/><circle cx="639.8" cy="347.8" r="0.94"/><circle cx="658.6" cy="360.5" r="0.66"/><circle cx="620.7" cy="368.8" r="0.96"/><circle cx="631.2" cy="367.0" r="0.41"/><circle cx="595.4" cy="349.9" r="0.94"/><circle cx="607.4" cy="363.7" r="0.36"/><circle cx="588.8" cy="350.6" r="0.89"/><circle cx="636.9" cy="368.5" r="0.58"/><circle cx="623.6" cy="359.2" r="0.72"/><circle cx="593.2" cy="378.0" r="0.51"/><circle cx="658.7" cy="379.9" r="0.36"/><circle cx="619.2" cy="374.8" r="1.12"/><circle cx="618.4" cy="350.6" r="0.52"/><circle cx="656.3" cy="348.1" r="0.82"/><circle cx="595.0" cy="361.8" r="1.11"/><circle cx="594.3" cy="374.8" r="0.76"/><circle cx="651.8" cy="369.7" r="0.54"/><circle cx="652.6" cy="360.1" r="0.37"/><circle cx="584.5" cy="360.4" r="0.71"/><circle cx="607.2" cy="345.0" r="0.63"/><circle cx="608.3" cy="375.7" r="0.35"/><circle cx="641.4" cy="375.6" r="0.45"/><circle cx="654.8" cy="370.1" r="1.07"/><circle cx="606.3" cy="355.1" r="0.66"/><circle cx="660.3" cy="364.7" r="0.64"/><circle cx="616.8" cy="350.9" r="0.39"/><circle cx="592.0" cy="375.4" r="0.58"/><circle cx="655.5" cy="349.7" r="0.56"/><circle cx="623.1" cy="347.1" r="0.65"/><circle cx="657.1" cy="377.6" r="1.00"/><circle cx="632.3" cy="378.9" r="1.10"/><circle cx="626.1" cy="370.4" r="0.39"/><circle cx="640.0" cy="358.6" r="0.95"/><circle cx="633.3" cy="351.4" r="0.39"/><circle cx="654.8" cy="344.4" r="0.73"/><circle cx="610.4" cy="351.9" r="0.94"/><circle cx="658.6" cy="350.2" r="0.87"/><circle cx="607.1" cy="363.3" r="0.67"/><circle cx="597.0" cy="345.9" r="0.52"/><circle cx="653.2" cy="360.6" r="0.53"/><circle cx="653.3" cy="382.5" r="0.71"/><circle cx="594.8" cy="347.2" r="0.42"/><circle cx="610.3" cy="342.8" r="0.54"/><circle cx="603.9" cy="363.8" r="1.06"/><circle cx="641.3" cy="356.9" r="0.68"/><circle cx="624.1" cy="355.3" r="0.62"/><circle cx="588.9" cy="351.0" r="1.12"/><circle cx="593.8" cy="360.9" r="0.85"/><circle cx="650.0" cy="348.3" r="0.57"/><circle cx="603.1" cy="356.3" r="0.71"/><circle cx="656.9" cy="376.1" r="1.05"/><circle cx="585.9" cy="340.2" r="0.92"/><circle cx="652.5" cy="359.6" r="0.82"/><circle cx="584.2" cy="356.0" r="1.09"/><circle cx="647.1" cy="376.4" r="1.13"/><circle cx="603.1" cy="343.6" r="0.47"/><circle cx="624.0" cy="368.7" r="1.10"/><circle cx="639.2" cy="367.2" r="0.96"/></g>
<g fill="#999" opacity="0.5"><circle cx="619.0" cy="325.3" r="0.39"/><circle cx="643.8" cy="315.8" r="1.18"/><circle cx="633.4" cy="317.9" r="0.47"/><circle cx="603.4" cy="327.9" r="0.98"/><circle cx="592.7" cy="310.9" r="0.82"/><circle cx="628.6" cy="320.4" r="0.55"/><circle cx="630.0" cy="309.1" r="0.62"/><circle cx="619.3" cy="337.6" r="0.93"/><circle cx="651.5" cy="323.1" r="0.56"/><circle cx="603.0" cy="337.6" r="0.98"/><circle cx="607.6" cy="309.5" r="0.80"/><circle cx="635.6" cy="321.4" r="0.58"/><circle cx="635.1" cy="336.6" r="0.55"/><circle cx="586.8" cy="318.9" r="0.73"/><circle cx="636.2" cy="314.7" r="1.07"/><circle cx="640.5" cy="323.9" r="0.53"/><circle cx="658.1" cy="318.2" r="1.09"/><circle cx="601.8" cy="315.4" r="1.03"/><circle cx="606.7" cy="337.4" r="0.80"/><circle cx="598.5" cy="315.5" r="0.73"/><circle cx="634.9" cy="337.3" r="0.48"/><circle cx="614.2" cy="315.2" r="1.23"/><circle cx="595.0" cy="310.4" r="0.40"/><circle cx="614.2" cy="335.7" r="1.15"/><circle cx="640.0" cy="338.7" r="1.19"/></g>
<path d="M583 315.8 L646 382.8" stroke="#a4a4a4" stroke-width="3" fill="none"/><path d="M583 315.8 L646 382.8" stroke="#d2d2d2" stroke-width="1.1" fill="none"/>
<circle cx="622" cy="345" r="14" fill="url(#faint2)" filter="url(#blur2)"/>
<circle cx="622" cy="344.9" r="7.8" fill="#333" filter="url(#blur1)"/>
<ellipse cx="622" cy="344.9" rx="8.7" ry="8.7" fill="none" stroke="#d23236" stroke-width="1.3" stroke-dasharray="2 1.8"/>
</g>
<g clip-path="url(#c31)"><rect x="506" y="384.6" width="76.4" height="74.2" fill="#cacaca"/>
<rect x="506" y="384.6" width="1.2" height="74.2" fill="#a8a8a8"/><rect x="506" y="384.6" width="76.4" height="1" fill="#b0b0b0"/>
<g fill="#8c8c8c" opacity="0.5"><circle cx="553.8" cy="414.6" r="1.19"/><circle cx="571.3" cy="406.3" r="0.95"/><circle cx="555.9" cy="424.8" r="0.65"/><circle cx="547.1" cy="404.8" r="0.60"/><circle cx="554.8" cy="456.2" r="0.46"/><circle cx="580.5" cy="415.8" r="0.67"/><circle cx="574.5" cy="449.0" r="0.74"/><circle cx="542.1" cy="430.2" r="0.69"/><circle cx="578.6" cy="415.0" r="0.68"/><circle cx="577.7" cy="406.2" r="0.72"/><circle cx="574.1" cy="446.0" r="0.39"/><circle cx="541.5" cy="408.0" r="1.18"/><circle cx="550.8" cy="445.0" r="1.16"/><circle cx="554.2" cy="419.3" r="1.21"/><circle cx="565.9" cy="418.8" r="0.99"/><circle cx="553.3" cy="419.5" r="0.35"/><circle cx="571.7" cy="454.1" r="0.92"/><circle cx="579.6" cy="405.9" r="0.56"/><circle cx="560.0" cy="456.3" r="1.21"/><circle cx="556.2" cy="418.2" r="0.74"/><circle cx="560.7" cy="454.7" r="0.51"/><circle cx="573.7" cy="444.5" r="1.09"/><circle cx="572.5" cy="437.4" r="0.65"/><circle cx="553.4" cy="424.1" r="1.05"/><circle cx="543.3" cy="415.3" r="1.03"/><circle cx="550.4" cy="408.1" r="0.38"/><circle cx="563.2" cy="422.2" r="1.23"/><circle cx="577.1" cy="457.9" r="0.59"/><circle cx="543.5" cy="409.8" r="0.80"/><circle cx="569.8" cy="428.7" r="0.56"/><circle cx="557.5" cy="438.1" r="0.96"/><circle cx="571.4" cy="450.3" r="0.95"/><circle cx="545.1" cy="450.0" r="0.61"/><circle cx="563.8" cy="424.7" r="1.01"/><circle cx="548.4" cy="418.0" r="0.57"/><circle cx="546.4" cy="452.3" r="0.87"/><circle cx="553.7" cy="426.0" r="1.24"/><circle cx="561.3" cy="417.1" r="1.08"/><circle cx="567.4" cy="458.1" r="0.44"/><circle cx="559.9" cy="448.8" r="1.11"/><circle cx="578.4" cy="406.8" r="0.61"/><circle cx="545.0" cy="414.8" r="1.23"/><circle cx="564.5" cy="454.8" r="0.69"/><circle cx="576.4" cy="428.9" r="0.58"/><circle cx="572.7" cy="455.7" r="0.45"/></g>
<g fill="#999" opacity="0.5"><circle cx="551.5" cy="430.6" r="0.55"/><circle cx="534.2" cy="395.1" r="0.53"/><circle cx="525.5" cy="429.1" r="0.94"/><circle cx="521.5" cy="385.4" r="0.64"/><circle cx="557.8" cy="398.3" r="0.63"/><circle cx="521.5" cy="443.6" r="0.84"/><circle cx="510.8" cy="392.1" r="0.71"/><circle cx="548.0" cy="432.0" r="0.43"/><circle cx="518.5" cy="436.2" r="0.72"/><circle cx="527.6" cy="407.4" r="1.21"/><circle cx="529.9" cy="426.6" r="0.67"/><circle cx="537.8" cy="448.7" r="1.25"/><circle cx="533.8" cy="399.2" r="1.01"/><circle cx="521.6" cy="385.0" r="1.16"/><circle cx="538.4" cy="445.5" r="0.72"/></g>
<ellipse cx="560" cy="435" rx="20" ry="20" fill="url(#faint2)" opacity="0.9" filter="url(#rough2)"/>
<ellipse cx="543" cy="401" rx="17" ry="16.5" fill="url(#faint)" filter="url(#rough3)"/>
<ellipse cx="541" cy="399" rx="12" ry="10" fill="#6e6e6e" opacity="0.65" filter="url(#blur2)"/>
<circle cx="546.5" cy="419" r="14.5" fill="url(#faint)" filter="url(#blur2)"/>
<ellipse cx="547.2" cy="418.3" rx="9.8" ry="9.2" fill="url(#core)" filter="url(#blur1)"/>
<ellipse cx="547.2" cy="418.3" rx="10.1" ry="9.4" fill="none" stroke="#d23236" stroke-width="1.3" stroke-dasharray="2 1.8"/>
<circle cx="523.2" cy="422.7" r="4.5" fill="#dcdcdc" filter="url(#blur1)"/><circle cx="523.2" cy="422.7" r="2.4" fill="#5a5a5a" filter="url(#blur1)"/>
<path d="M565 408 L580 401 M568 412 L581 406" stroke="#9a9a9a" stroke-width="0.7" fill="none"/>
</g>
<g clip-path="url(#c32)"><rect x="584.2" y="384.6" width="76.2" height="74.2" fill="#c8c8c8"/>
<rect x="584.2" y="384.6" width="1.2" height="74.2" fill="#a8a8a8"/><rect x="584.2" y="384.6" width="76.2" height="1" fill="#b0b0b0"/>
<g fill="#8e8e8e" opacity="0.45"><circle cx="624.0" cy="418.8" r="0.50"/><circle cx="592.7" cy="425.5" r="0.93"/><circle cx="625.0" cy="391.2" r="0.91"/><circle cx="605.6" cy="422.0" r="0.48"/><circle cx="602.4" cy="423.3" r="1.18"/><circle cx="596.1" cy="421.0" r="1.07"/><circle cx="627.0" cy="399.2" r="0.46"/><circle cx="626.2" cy="457.0" r="0.78"/><circle cx="594.1" cy="453.3" r="0.70"/><circle cx="624.8" cy="430.6" r="1.09"/><circle cx="598.0" cy="442.9" r="0.55"/><circle cx="606.8" cy="447.4" r="1.10"/><circle cx="598.8" cy="400.8" r="0.71"/><circle cx="610.8" cy="413.1" r="0.46"/><circle cx="601.1" cy="438.4" r="1.16"/><circle cx="593.7" cy="426.3" r="1.03"/><circle cx="593.6" cy="446.8" r="0.46"/><circle cx="613.8" cy="425.4" r="0.91"/><circle cx="603.2" cy="415.8" r="0.87"/><circle cx="607.5" cy="433.5" r="0.75"/><circle cx="608.0" cy="386.3" r="0.91"/><circle cx="609.8" cy="402.1" r="1.04"/><circle cx="620.3" cy="418.6" r="0.51"/><circle cx="609.2" cy="392.5" r="0.47"/><circle cx="607.7" cy="391.4" r="0.75"/><circle cx="610.6" cy="387.6" r="0.92"/><circle cx="595.2" cy="439.0" r="1.05"/><circle cx="610.6" cy="388.6" r="0.80"/><circle cx="605.8" cy="455.2" r="0.47"/><circle cx="623.1" cy="458.5" r="1.01"/><circle cx="621.5" cy="399.0" r="1.23"/><circle cx="609.9" cy="455.6" r="1.17"/><circle cx="598.1" cy="443.1" r="1.19"/><circle cx="594.6" cy="410.6" r="1.03"/><circle cx="597.9" cy="451.1" r="0.60"/><circle cx="621.6" cy="395.3" r="0.80"/><circle cx="625.3" cy="400.1" r="0.59"/><circle cx="610.4" cy="408.3" r="0.38"/><circle cx="598.8" cy="396.6" r="1.19"/><circle cx="616.7" cy="451.0" r="0.50"/><circle cx="620.5" cy="393.1" r="0.83"/><circle cx="615.1" cy="411.3" r="1.14"/><circle cx="612.2" cy="427.6" r="1.14"/><circle cx="596.0" cy="458.3" r="0.92"/><circle cx="606.4" cy="443.8" r="0.59"/></g>
<g fill="#999" opacity="0.45"><circle cx="659.7" cy="427.4" r="0.67"/><circle cx="642.5" cy="417.4" r="0.51"/><circle cx="640.9" cy="388.2" r="1.09"/><circle cx="603.5" cy="432.0" r="1.24"/><circle cx="628.8" cy="433.8" r="0.63"/><circle cx="584.3" cy="387.1" r="0.48"/><circle cx="631.1" cy="416.7" r="0.81"/><circle cx="652.4" cy="394.4" r="0.55"/><circle cx="634.0" cy="386.3" r="0.35"/><circle cx="611.2" cy="392.5" r="0.67"/></g>
<ellipse cx="608" cy="412" rx="18" ry="30" fill="url(#faint2)" opacity="0.9" filter="url(#rough)"/>
<ellipse cx="604" cy="393" rx="10" ry="7" fill="#9a9a9a" opacity="0.5" filter="url(#blur2)"/>
<ellipse cx="629" cy="418" rx="10" ry="8.5" fill="url(#faint2)" filter="url(#blur2)"/>
<circle cx="625.8" cy="417.6" r="4.3" fill="#353535" filter="url(#blur1)"/>
<ellipse cx="625.8" cy="417.6" rx="5.0" ry="5.0" fill="none" stroke="#d23236" stroke-width="1.3" stroke-dasharray="1.9 1.5"/>
<circle cx="625.2" cy="398" r="1.8" fill="#666" filter="url(#blur1)"/>
<path d="M598 440 Q620 430 650 420 M600 446 Q625 436 655 426" stroke="#bdbdbd" stroke-width="0.8" fill="none"/>
</g>
<g font-size="8.2" font-weight="bold">
<text x="545" y="227.6" text-anchor="middle">DMSO</text>
<text x="625.5" y="227.6" text-anchor="middle">ATQ 30 <tspan font-style="italic">µ</tspan>M</text>
<text transform="translate(498.2,267.8) rotate(-90)" text-anchor="middle">PBS</text>
<text transform="translate(498.2,345.3) rotate(-90)" text-anchor="middle">Carbo 25 <tspan font-style="italic">µ</tspan>M</text>
<text transform="translate(498.2,422.6) rotate(-90)" text-anchor="middle">Carbo 50 <tspan font-style="italic">µ</tspan>M</text>
</g>
</svg>
</body></html>
